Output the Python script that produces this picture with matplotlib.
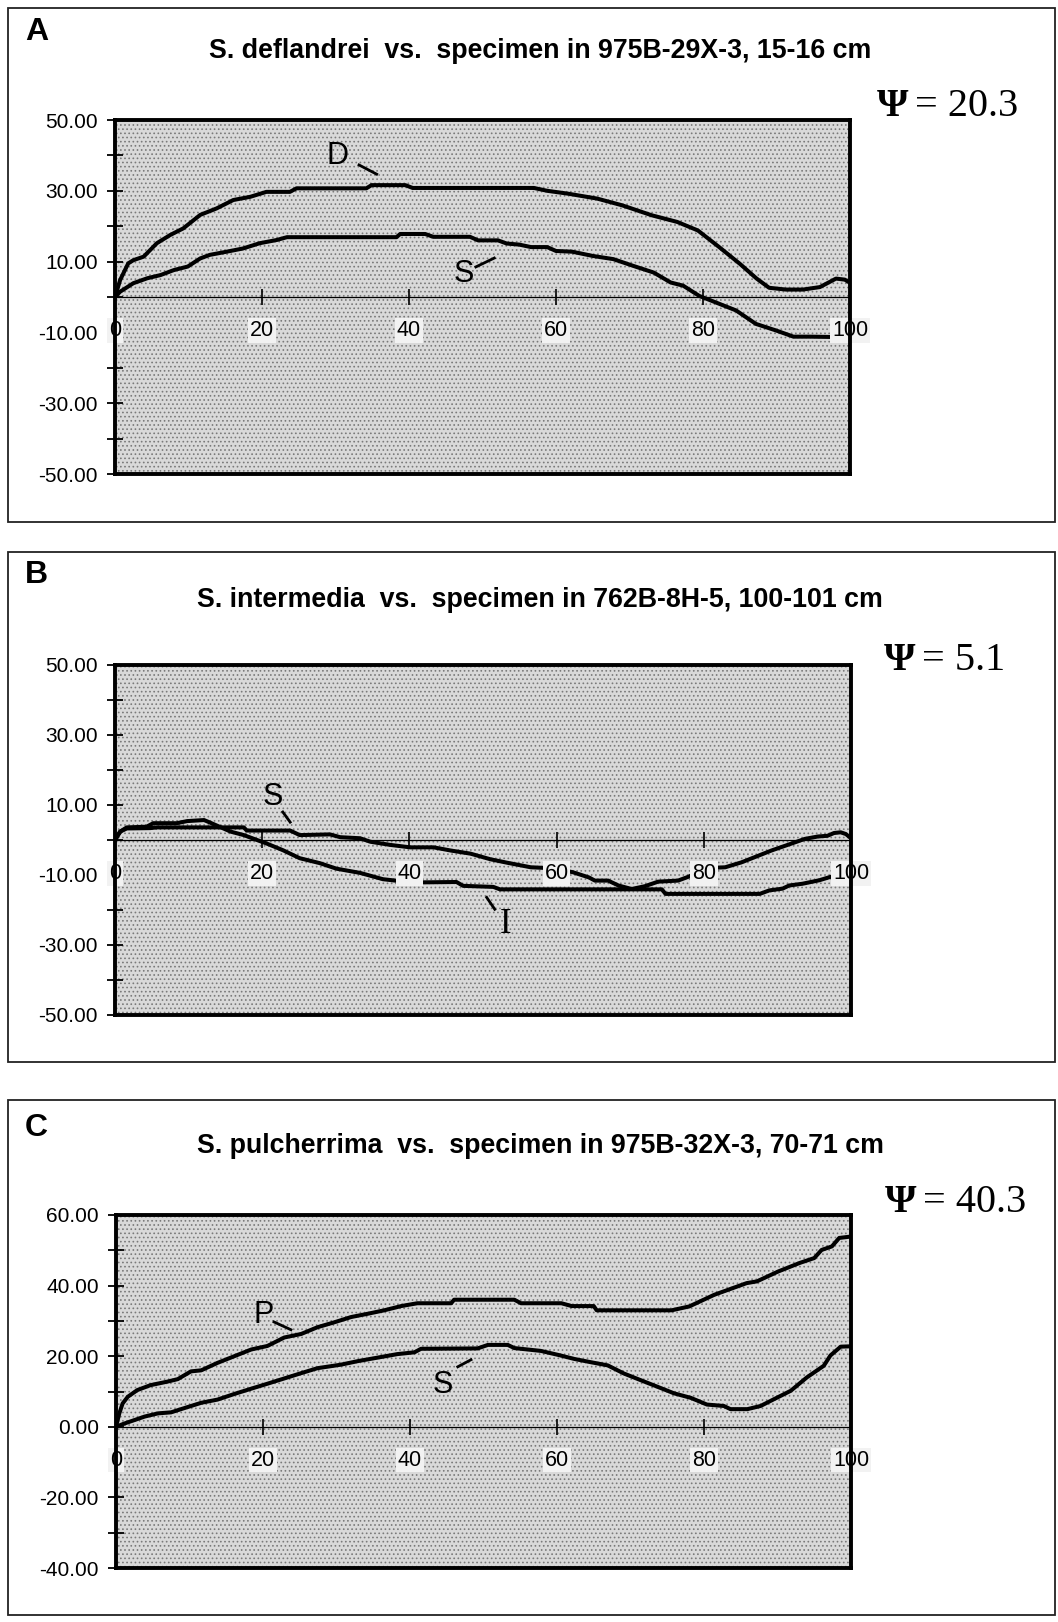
import numpy as np
import matplotlib.pyplot as plt
from matplotlib.patches import Rectangle

W, H = 1058, 1622

# panel A: S. deflandrei (D) and specimen (S)
a_d_x = [0, 0.7, 1.8, 2.5, 3.9, 5.7, 7.5, 9.3, 11.6, 13.8, 16.1, 18.4, 20.6, 23.8, 24.7, 34.2, 34.9,
         39.5, 40.5, 57, 58.8, 61.6, 65.6, 69, 73, 76.5, 79.3, 82.2, 85, 87.3, 89, 91.3, 93.6, 95.9,
         98.1, 99.3, 100]
a_d_y = [0, 4.8, 9.5, 10.4, 11.4, 15.2, 17.5, 19.4, 23.2, 25, 27.4, 28.3, 29.7, 29.7, 30.7, 30.7, 31.6,
         31.6, 30.8, 30.8, 30, 29.2, 27.8, 25.9, 23.1, 21.2, 18.8, 14.1, 9.4, 5.2, 2.6, 2.1, 2.1, 2.8,
         5.2, 4.9, 4.0]
a_s_x = [0, 0.7, 2.5, 4.4, 6.2, 8, 9.9, 11.6, 12.9, 15.2, 17.4, 19.7, 22, 23.4, 38.3, 38.8, 42.2, 43.3,
         48.3, 49.4, 52.1, 53.3, 55, 56.6, 58.8, 60, 62.2, 65, 67.8, 70.5, 73.3, 75.6, 77.3, 79.5, 81.7,
         84.5, 87.2, 90, 92.3, 94.5, 97.9, 100]
a_s_y = [0, 1.5, 3.9, 5.3, 6.2, 7.6, 8.6, 10.9, 11.9, 12.8, 13.7, 15.2, 16.1, 16.9, 16.9, 17.8, 17.8, 17,
         17, 16, 16, 15.1, 14.8, 14.1, 14.1, 13, 12.8, 11.6, 10.7, 8.8, 6.9, 4.1, 3.2, 0.3, -1.5,
         -3.8, -7.6, -9.5, -11.2, -11.2, -11.3, -11.3]

# panel B: S. intermedia (I) and specimen (S)
b_s_x = [0, 0.7, 1.6, 4.8, 5.7, 17.5, 17.9, 23.8, 25.1, 29.2, 30.6, 33.3, 34.7, 37.4, 40.1, 43.3, 45.6,
         48.3, 51, 53.3, 56.5, 58.7, 60, 62.2, 64.4, 65.2, 67, 68.4, 70.2, 72, 73.8, 76.5, 77.9, 80.6,
         82.9, 85.1, 87.4, 89.2, 91.8, 93.7, 95.5, 96.8, 97.7, 98.6, 99.3, 100]
b_s_y = [0, 2.4, 3.3, 3.4, 3.6, 3.6, 2.7, 2.7, 1.4, 1.6, 0.8, 0.5, -0.5, -1.4, -2.1, -2.1, -3,
         -3.9, -5.5, -6.5, -7.8, -8, -8.3, -9.2, -10.7, -11.6, -11.6, -13, -14, -13.2, -11.9, -11.6, -10.5, -8,
         -7.8, -6.4, -4.5, -3, -1.1, 0.3, 1, 1.2, 2, 2.2, 1.7, 0.5]
b_i_x = [0, 0.7, 1.6, 4.3, 5.2, 8.4, 9.8, 12.1, 13, 14.4, 15.7, 17.5, 19.3, 20.6, 22.8, 25.1, 27.8, 30.1,
         33.3, 36.4, 38.5, 41.9, 46.4, 47.3, 51.4, 52.3, 74.3, 74.8, 87.6, 88.9, 90.7, 91.6, 93.4, 95.7,
         97.1, 98, 100]
b_i_y = [0, 2.4, 3.6, 3.8, 4.8, 4.8, 5.4, 5.7, 4.9, 3.6, 2.4, 1.4, 0, -1.0, -2.9, -5.2, -6.6, -8.2,
         -9.4, -11.2, -11.7, -12.1, -12, -13.1, -13.4, -14.1, -14.1, -15.4, -15.4, -14.4, -13.9, -13, -12.5, -11.5,
         -10.6, -10.1, -9.6]

# panel C: S. pulcherrima (P) and specimen (S)
c_p_x = [0, 0.45, 0.9, 1.6, 2.9, 4.7, 7, 8.4, 10.2, 11.6, 13.8, 16.1, 18.4, 20.6, 22.9, 25.2, 27.4, 29.7,
         32, 34.2, 36.5, 38.8, 41, 45.6, 46, 54.2, 55.1, 60.6, 62, 65, 65.4, 75.6, 78, 81.4, 85.8, 87.2,
         90.1, 93, 95, 96, 97.4, 98.4, 100]
c_p_y = [0, 3.8, 6.6, 8.5, 10.4, 11.8, 12.8, 13.5, 15.7, 16, 18.1, 20, 21.9, 22.9, 25.3, 26.3, 28.2, 29.6,
         31.1, 32, 33, 34.2, 35, 35, 36, 36, 35, 35, 34.2, 34.2, 33, 33, 34.1, 37.4, 40.7, 41.2,
         44, 46.4, 47.8, 50.1, 51.1, 53.5, 53.9]
c_s_x = [0, 1.1, 2.5, 3.9, 5.7, 7.5, 9.3, 11.6, 13.8, 16.1, 18.4, 20.6, 22.9, 25.2, 27.4, 30.6, 32.9, 35.6,
         38.3, 40.6, 41.5, 49.2, 50.6, 53.3, 54.2, 57.8, 60.3, 62.4, 64.6, 66.9, 69.1, 71.4, 73.6, 75.9,
         78.2, 80.4, 82.7, 83.6, 85.9, 87.7, 89.5, 91.8, 94, 96.3, 97.2, 98.6, 100]
c_s_y = [0, 0.9, 1.9, 2.9, 3.8, 4.1, 5.3, 6.8, 7.7, 9.3, 10.8, 12.2, 13.7, 15.2, 16.6, 17.6, 18.6, 19.6,
         20.6, 21.1, 22.1, 22.2, 23.2, 23.2, 22.3, 21.5, 20.3, 19.2, 18.3, 17.4, 15.1, 13.2, 11.4, 9.5,
         8.2, 6.3, 5.9, 5, 5, 5.9, 7.8, 10.2, 14, 17.3, 20.2, 22.7, 22.8]

letters = ['A', 'B', 'C']
titles = ['S. deflandrei  vs.  specimen in 975B-29X-3, 15-16 cm',
          'S. intermedia  vs.  specimen in 762B-8H-5, 100-101 cm',
          'S. pulcherrima  vs.  specimen in 975B-32X-3, 70-71 cm']
psi_vals = ['20.3', '5.1', '40.3']
ylims = [(-50, 50), (-50, 50), (-40, 60)]
ylabel_ticks = [[50, 30, 10, -10, -30, -50], [50, 30, 10, -10, -30, -50], [60, 40, 20, 0, -20, -40]]
xlabels = [0, 20, 40, 60, 80, 100]
xmarks = [20, 40, 60, 80]

series = [[(a_d_x, a_d_y), (a_s_x, a_s_y)],
          [(b_s_x, b_s_y), (b_i_x, b_i_y)],
          [(c_p_x, c_p_y), (c_s_x, c_s_y)]]
# curve labels: text, text position, leader line start, leader line end
curve_labels = [[('D', (30.3, 39.8), (33.2, 37.3), (35.6, 34.7)),
                 ('S', (47.5, 6.5), (49.1, 8.5), (51.6, 11.0))],
                [('S', (21.4, 12.4), (22.8, 8.0), (23.8, 5.1)),
                 ('I', (53.0, -24.1), (50.5, -16.4), (51.6, -19.8))],
                [('P', (20.1, 31.7), (21.5, 29.7), (23.8, 27.5)),
                 ('S', (44.5, 11.9), (46.5, 17.0), (48.3, 19.0))]]

# pixel layout (top-left origin)
boxes = [(8, 8, 1055, 522), (8, 552, 1055, 1062), (8, 1100, 1055, 1615)]
axes_px = [(115, 120, 850, 474), (115, 665, 851, 1015), (116, 1215, 851, 1568)]
letter_y = [32, 575, 1128]
title_y = [51, 600, 1146]
psi_pos = [(877, 106), (884, 660), (885, 1203)]

plt.rcParams['font.family'] = 'Liberation Sans'
plt.rcParams['hatch.linewidth'] = 0.7

fig = plt.figure(figsize=(W / 100, H / 100), dpi=100)

def fx(x):
    return x / W

def fy(y):
    return 1 - y / H

for k in range(3):
    x0, y0, x1, y1 = boxes[k]
    fig.add_artist(Rectangle((fx(x0), fy(y1)), (x1 - x0) / W, (y1 - y0) / H,
                             transform=fig.transFigure, fill=False, lw=1.3, ec='#222222'))
    fig.text(fx(25), fy(letter_y[k]), letters[k], fontsize=23, fontweight='bold', ha='left', va='center')
    fig.text(fx(540), fy(title_y[k]), titles[k], fontsize=19.3, fontweight='bold', ha='center', va='center')
    px, py = psi_pos[k]
    fig.text(fx(px), fy(py), '\u03a8', fontsize=29, fontweight='bold', family='Liberation Serif',
             ha='left', va='center')
    fig.text(fx(px + 38), fy(py), '= ' + psi_vals[k], fontsize=29, family='Liberation Serif',
             ha='left', va='center')

    l, t, r, b = axes_px[k]
    ax = fig.add_axes([fx(l), fy(b), (r - l) / W, (b - t) / H])
    ax.set_facecolor('#d9d9d9')
    ax.add_patch(Rectangle((0, 0), 1, 1, transform=ax.transAxes, fill=False, hatch='....',
                           ec='#7a7a7a', lw=0, zorder=0))
    ax.set_xlim(0, 100)
    ax.set_ylim(*ylims[k])
    for sp in ax.spines.values():
        sp.set_linewidth(2.8)
    ax.set_xticks([])
    yt = np.arange(ylims[k][0], ylims[k][1] + 1, 10)
    ax.set_yticks(yt)
    ax.set_yticklabels(['%.2f' % v if v in ylabel_ticks[k] else '' for v in yt])
    ax.tick_params(axis='y', direction='inout', length=11, width=1.3, pad=7, labelsize=15)

    ax.axhline(0, color='black', lw=0.9, zorder=1.5)
    ax.plot(xmarks, [0] * len(xmarks), linestyle='none', marker='|', ms=12, mew=1.2, color='black',
            zorder=1.6)
    for v in xlabels:
        ax.annotate(str(v), (v, 0), xytext=(0, -24), textcoords='offset points', ha='center',
                    va='center', fontsize=15.5, zorder=2.4, annotation_clip=False,
                    bbox=dict(boxstyle='square,pad=0.08', fc='#f2f2f2', ec='none'))

    for xs, ys in series[k]:
        ax.plot(xs, ys, color='black', lw=2.9, solid_joinstyle='round', zorder=2)

    for txt, tpos, p0, p1 in curve_labels[k]:
        fam = 'Liberation Serif' if txt == 'I' else 'Liberation Sans'
        size = 25 if txt == 'I' else 22
        ax.text(tpos[0], tpos[1], txt, fontsize=size, family=fam, ha='center', va='center', zorder=3)
        ax.plot([p0[0], p1[0]], [p0[1], p1[1]], color='black', lw=2.0, zorder=3)

fig.savefig('out.png', dpi=100)
